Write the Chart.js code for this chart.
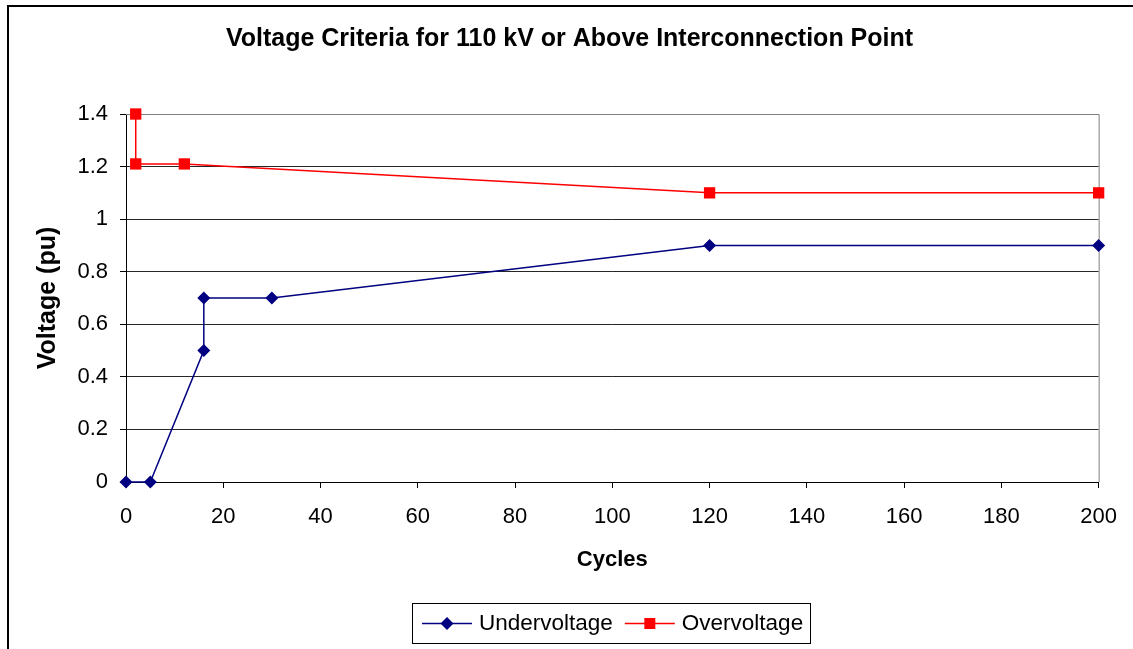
<!DOCTYPE html>
<html>
<head>
<meta charset="utf-8">
<script src="https://cdn.jsdelivr.net/npm/chart.js@4/dist/chart.umd.min.js"></script>
<style>
  html, body { margin: 0; padding: 0; background: #fff; }
  #wrap { width: 1133px; height: 649px; position: relative; }
</style>
</head>
<body>
<div id="wrap"><canvas id="grafica" width="1133" height="649"></canvas></div>
<script>
// Datos
const underX = [0, 5, 16, 16, 30, 120, 200];
const underY = [0, 0, 0.5, 0.7, 0.7, 0.9, 0.9];
const overX = [2, 2, 12, 120, 200];
const overY = [1.4, 1.21, 1.21, 1.1, 1.1];
const nombres = ['Undervoltage', 'Overvoltage'];
const colores = ['#000080', '#ff0000'];

const FUENTE = '"Liberation Sans", Arial, sans-serif';

function puntos(xs, ys) {
    return xs.map((x, i) => ({ x: x, y: ys[i] }));
}

// Marco exterior y borde del area de trazado
const marco = {
    id: 'marco',
    beforeDatasetsDraw(chart) {
        const { ctx, chartArea: a } = chart;
        ctx.save();
        ctx.strokeStyle = '#808080';
        ctx.lineWidth = 1;
        ctx.beginPath();
        ctx.moveTo(a.left, a.top + 0.5);
        ctx.lineTo(a.right + 0.5, a.top + 0.5);
        ctx.lineTo(a.right + 0.5, a.bottom);
        ctx.stroke();
        ctx.restore();
    },
    afterDraw(chart) {
        const ctx = chart.ctx;
        ctx.save();
        ctx.strokeStyle = '#000';
        ctx.lineWidth = 2;
        ctx.strokeRect(8, 6, 1200, 1000);
        ctx.restore();
    }
};

// Leyenda estilo Excel (linea + marcador)
const leyenda = {
    id: 'leyenda',
    afterDraw(chart) {
        const ctx = chart.ctx;
        const caja = { x: 412.5, y: 603.5, w: 398, h: 40 };
        const cy = caja.y + caja.h / 2;
        ctx.save();
        ctx.strokeStyle = '#000';
        ctx.lineWidth = 1;
        ctx.strokeRect(caja.x, caja.y, caja.w, caja.h);
        ctx.font = '22.5px ' + FUENTE;
        ctx.textBaseline = 'middle';
        let x = 422;
        chart.data.datasets.forEach((ds, i) => {
            ctx.strokeStyle = ds.borderColor;
            ctx.fillStyle = ds.backgroundColor;
            ctx.lineWidth = 1.5;
            ctx.beginPath();
            ctx.moveTo(x, cy);
            ctx.lineTo(x + 50, cy);
            ctx.stroke();
            const mx = x + 25;
            ctx.beginPath();
            if (ds.pointStyle === 'rectRot') {
                const r = 6.5;
                ctx.moveTo(mx - r, cy);
                ctx.lineTo(mx, cy - r);
                ctx.lineTo(mx + r, cy);
                ctx.lineTo(mx, cy + r);
                ctx.closePath();
            } else {
                ctx.rect(mx - 5.5, cy - 5.5, 11, 11);
            }
            ctx.fill();
            ctx.fillStyle = '#000';
            ctx.fillText(ds.label, x + 57, cy);
            x += 57 + ctx.measureText(ds.label).width + 12;
        });
        ctx.restore();
    }
};

const ctx = document.getElementById('grafica').getContext('2d');
const grafica = new Chart(ctx, {
    type: 'scatter',
    data: {
        datasets: [{
            label: nombres[0],
            data: puntos(underX, underY),
            borderColor: colores[0],
            backgroundColor: colores[0],
            borderWidth: 1.5,
            showLine: true,
            clip: false,
            pointStyle: 'rectRot',
            pointRadius: 6.5,
            pointBorderWidth: 0,
            tension: 0
        }, {
            label: nombres[1],
            data: puntos(overX, overY),
            borderColor: colores[1],
            backgroundColor: colores[1],
            borderWidth: 1.5,
            showLine: true,
            clip: false,
            pointStyle: 'rect',
            pointRadius: 8,
            pointBorderWidth: 0,
            tension: 0
        }]
    },
    options: {
        responsive: false,
        animation: false,
        layout: { padding: { left: 38, right: 32, top: 0, bottom: 0 } },
        scales: {
            x: {
                type: 'linear',
                min: 0,
                max: 200,
                afterFit: s => { s.height = 167; },
                ticks: {
                    stepSize: 20,
                    color: '#000',
                    padding: 16,
                    maxRotation: 0,
                    font: { family: FUENTE, size: 22 }
                },
                grid: {
                    drawOnChartArea: false,
                    drawTicks: true,
                    tickLength: 6,
                    tickColor: '#000'
                },
                border: { color: '#000', width: 1 },
                title: {
                    display: true,
                    text: 'Cycles',
                    color: '#000',
                    font: { family: FUENTE, size: 22, weight: 'bold' },
                    padding: { top: 0, bottom: 76 }
                }
            },
            y: {
                type: 'linear',
                min: 0,
                max: 1.4,
                afterFit: s => { s.width = 88; },
                ticks: {
                    stepSize: 0.2,
                    color: '#000',
                    padding: 12,
                    font: { family: FUENTE, size: 22 },
                    callback: v => String(+v.toFixed(1))
                },
                grid: {
                    color: c => (c.tick && c.tick.value >= 1.39 ? '#808080' : '#262626'),
                    lineWidth: 1,
                    tickLength: 6,
                    tickColor: '#000'
                },
                border: { color: '#000', width: 1 },
                title: {
                    display: true,
                    text: 'Voltage (pu)',
                    color: '#000',
                    font: { family: FUENTE, size: 25, weight: 'bold', lineHeight: 1 },
                    padding: { top: -2, bottom: 0 }
                }
            }
        },
        plugins: {
            legend: { display: false },
            tooltip: { enabled: false },
            title: {
                display: true,
                text: 'Voltage Criteria for 110 kV or Above Interconnection Point',
                color: '#000',
                font: { family: FUENTE, size: 25, weight: 'bold' },
                padding: { top: 24, bottom: 60 }
            }
        }
    },
    plugins: [marco, leyenda]
});
</script>
</body>
</html>
